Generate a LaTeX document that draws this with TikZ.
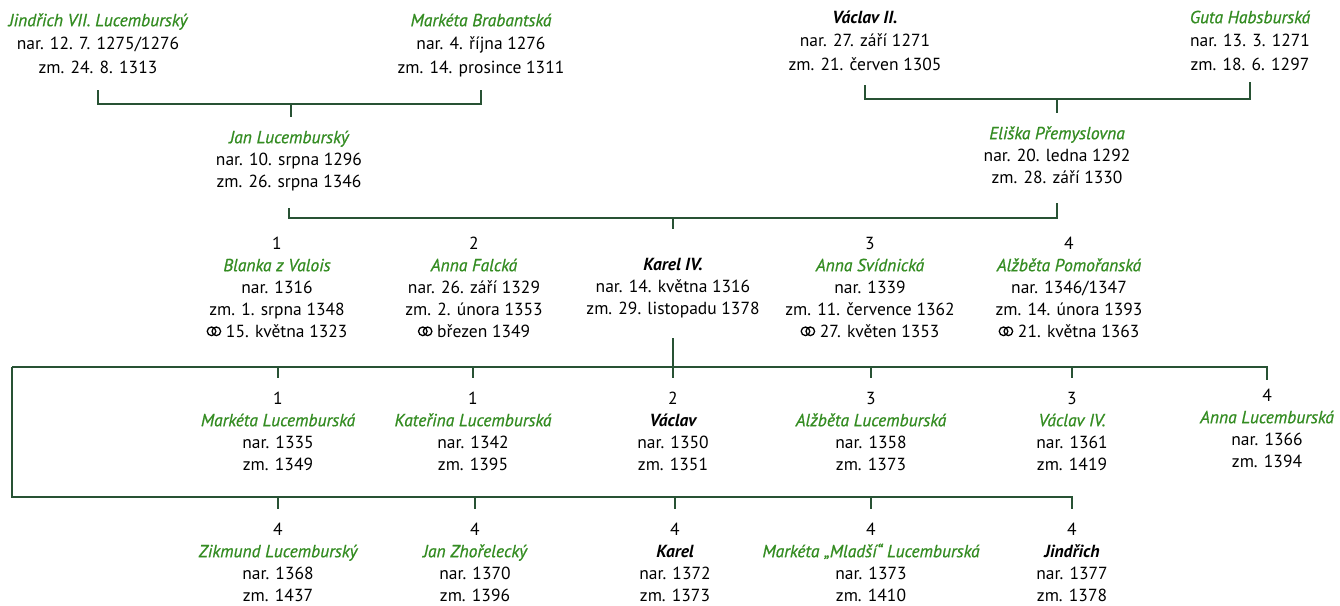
\documentclass[tikz,border=0pt]{standalone}
\usepackage{fontspec}
\setmainfont{PT Sans}
\newfontfamily\gfont{PT Sans}[FakeBold=0.8]
\definecolor{namegreen}{RGB}{52,140,34}
\definecolor{linecol}{RGB}{40,82,52}
\newcommand\gn[1]{{\gfont\itshape\color{namegreen}#1}}
\newcommand\bn[1]{{\bfseries\itshape #1}}
\newcommand\mar{\tikz[baseline=0pt]\draw[line width=1.3pt] (4.6pt,5.9pt) circle[radius=4.3pt] (9.4pt,5.9pt) circle[radius=4.3pt];}
\begin{document}
\begin{tikzpicture}[x=1pt,y=-1pt,
  every node/.style={inner sep=0pt, align=center, font=\fontsize{17.5}{22}\selectfont},
  person/.style={anchor=north, yshift=15.4pt},
  toprow/.style={person, font=\fontsize{17.5}{23.5}\selectfont, yshift=1.05pt},
  line/.style={draw=linecol, line width=1.5pt},
]
\useasboundingbox (0,0) rectangle (1340,605);

% generation 0
\node[toprow] (jindrich7) at (98,26) {\strut\gn{Jindřich VII. Lucemburský}\\nar. 12. 7. 1275/1276\\zm. 24. 8. 1313\strut};
\node[toprow] (marketaB) at (481,26) {\strut\gn{Markéta Brabantská}\\nar. 4. října 1276\\zm. 14. prosince 1311\strut};
\node[toprow] (vaclav2) at (865,23) {\strut\bn{Václav II.}\\nar. 27. září 1271\\zm. 21. červen 1305\strut};
\node[toprow] (guta) at (1250,23) {\strut\gn{Guta Habsburská}\\nar. 13. 3. 1271\\zm. 18. 6. 1297\strut};

% generation 1
\node[person] (jan) at (289,143) {\strut\gn{Jan Lucemburský}\\nar. 10. srpna 1296\\zm. 26. srpna 1346\strut};
\node[person] (eliska) at (1057,139) {\strut\gn{Eliška Přemyslovna}\\nar. 20. ledna 1292\\zm. 28. září 1330\strut};

% generation 2
\node[person] (blanka) at (277,249) {\strut 1\\\gn{Blanka z Valois}\\nar. 1316\\zm. 1. srpna 1348\\\mar\ 15. května 1323\strut};
\node[person] (annaF) at (474,249) {\strut 2\\\gn{Anna Falcká}\\nar. 26. září 1329\\zm. 2. února 1353\\\mar\ březen 1349\strut};
\node[person] (karel4) at (673,270) {\strut\bn{Karel IV.}\\nar. 14. května 1316\\zm. 29. listopadu 1378\strut};
\node[person] (annaS) at (870,249) {\strut 3\\\gn{Anna Svídnická}\\nar. 1339\\zm. 11. července 1362\\\mar\ 27. květen 1353\strut};
\node[person] (alzbetaP) at (1069,249) {\strut 4\\\gn{Alžběta Pomořanská}\\nar. 1346/1347\\zm. 14. února 1393\\\mar\ 21. května 1363\strut};

% generation 3 (row a)
\node[person] (marketaL) at (278,404) {\strut 1\\\gn{Markéta Lucemburská}\\nar. 1335\\zm. 1349\strut};
\node[person] (katerina) at (473,404) {\strut 1\\\gn{Kateřina Lucemburská}\\nar. 1342\\zm. 1395\strut};
\node[person] (vaclav) at (673,404) {\strut 2\\\bn{Václav}\\nar. 1350\\zm. 1351\strut};
\node[person] (alzbetaL) at (871,404) {\strut 3\\\gn{Alžběta Lucemburská}\\nar. 1358\\zm. 1373\strut};
\node[person] (vaclav4) at (1072,404) {\strut 3\\\gn{Václav IV.}\\nar. 1361\\zm. 1419\strut};
\node[person] (annaL) at (1267,401) {\strut 4\\\gn{Anna Lucemburská}\\nar. 1366\\zm. 1394\strut};

% generation 3 (row b)
\node[person] (zikmund) at (278,535) {\strut 4\\\gn{Zikmund Lucemburský}\\nar. 1368\\zm. 1437\strut};
\node[person] (janZ) at (475,535) {\strut 4\\\gn{Jan Zhořelecký}\\nar. 1370\\zm. 1396\strut};
\node[person] (karel) at (675,535) {\strut 4\\\bn{Karel}\\nar. 1372\\zm. 1373\strut};
\node[person] (marketaM) at (871,535) {\strut 4\\\gn{Markéta „Mladší“ Lucemburská}\\nar. 1373\\zm. 1410\strut};
\node[person] (jindrich) at (1072,535) {\strut 4\\\bn{Jindřich}\\nar. 1377\\zm. 1378\strut};

% bracket coordinates
\coordinate (tl) at (291,104);
\coordinate (tr) at (1057,99);
\coordinate (mid) at (673,218);
\coordinate (h3) at (12,367);
\coordinate (h4) at (12,497);

% parents of Jan
\draw[line] ([yshift=-10pt]jindrich7.south) |- (tl) -| ([yshift=-10pt]marketaB.south);
\draw[line, shorten >=11pt] (tl) -- (tl |- jan.north);
% parents of Eliska
\draw[line] ([yshift=-8pt]vaclav2.south) |- (tr) -| ([yshift=-5pt]guta.south);
\draw[line, shorten >=11pt] (tr) -- (tr |- eliska.north);
% Jan + Eliska
\draw[line] ([yshift=-14pt]jan.south) |- (mid) -| ([yshift=-13pt]eliska.south);
\draw[line, shorten >=26pt] (mid) -- (mid |- karel4.north);
% Karel IV to children
\draw[line] ([yshift=-17pt]karel4.south) -- ([yshift=10.6pt]vaclav.north);
\draw[line] (h3) -- (annaL.north |- h3) -- ([yshift=6pt]annaL.north);
\draw[line] (h3) -- (h4) -- (jindrich.north |- h4) -- ([yshift=10.6pt]jindrich.north);
\foreach \k in {marketaL,katerina,alzbetaL,vaclav4}
  \draw[line] (\k.north |- h3) -- ([yshift=10.6pt]\k.north);
\foreach \k in {zikmund,janZ,karel,marketaM}
  \draw[line] (\k.north |- h4) -- ([yshift=10.6pt]\k.north);
\end{tikzpicture}
\end{document}
